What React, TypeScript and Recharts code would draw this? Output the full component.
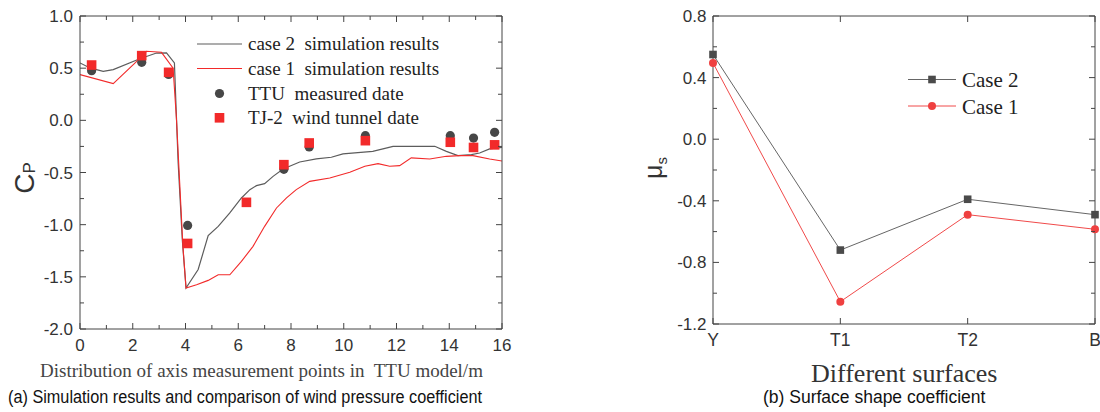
import React from 'react';
import { ComposedChart, LineChart, Line, Scatter, XAxis, YAxis } from 'recharts';

// ---------- (a) left chart data ----------
const case2X = [0, 0.4, 0.88, 1.26, 2.27, 2.9, 3.28, 3.58, 3.72, 3.88, 4.02, 4.48, 4.86, 5.24, 5.68, 6.12, 6.44, 6.69, 7.0, 7.32, 7.7, 8.33, 8.96, 9.53, 9.97, 11.1, 11.87, 12.56, 13.45, 13.89, 14.33, 14.84, 15.15, 15.53, 16];
const case2Cp = [0.55, 0.5, 0.47, 0.486, 0.59, 0.645, 0.646, 0.55, -0.4, -1.15, -1.607, -1.43, -1.105, -1.016, -0.888, -0.744, -0.664, -0.626, -0.607, -0.537, -0.466, -0.399, -0.37, -0.354, -0.322, -0.297, -0.249, -0.249, -0.249, -0.297, -0.338, -0.329, -0.313, -0.274, -0.26];

const case1X = [0, 1.26, 2.21, 2.52, 3.09, 3.53, 3.66, 3.78, 3.9, 4.02, 4.42, 4.86, 5.24, 5.68, 6.12, 6.56, 7.0, 7.45, 7.83, 8.2, 8.71, 9.47, 10.23, 10.8, 11.3, 11.74, 12.12, 12.56, 13.26, 13.89, 14.39, 14.9, 15.53, 16];
const case1Cp = [0.438, 0.352, 0.58, 0.662, 0.652, 0.5, 0.0, -0.6, -1.2, -1.607, -1.575, -1.534, -1.48, -1.48, -1.352, -1.208, -1.016, -0.84, -0.744, -0.664, -0.585, -0.552, -0.498, -0.44, -0.415, -0.44, -0.434, -0.36, -0.37, -0.345, -0.338, -0.338, -0.37, -0.39];

const ttuX = [0.44, 2.34, 3.36, 4.08, 7.73, 8.69, 10.82, 14.04, 14.92, 15.72];
const ttuCp = [0.476, 0.556, 0.44, -1.007, -0.47, -0.255, -0.147, -0.147, -0.17, -0.115];

const tj2X = [0.44, 2.34, 3.36, 4.08, 6.31, 7.73, 8.69, 10.82, 14.04, 14.92, 15.72];
const tj2Cp = [0.53, 0.62, 0.46, -1.18, -0.786, -0.425, -0.217, -0.195, -0.21, -0.26, -0.235];

const xTicksA = [0, 1, 2, 3, 4, 5, 6, 7, 8, 9, 10, 11, 12, 13, 14, 15, 16];
const yTicksA = [-2, -1.75, -1.5, -1.25, -1, -0.75, -0.5, -0.25, 0, 0.25, 0.5, 0.75, 1];

// ---------- (b) right chart data ----------
const surfaces = ['Y', 'T1', 'T2', 'B'];
const case2Mu = [0.55, -0.72, -0.39, -0.49];
const case1Mu = [0.495, -1.055, -0.49, -0.585];
const yTicksB = [-1.2, -1, -0.8, -0.6, -0.4, -0.2, 0, 0.2, 0.4, 0.6, 0.8];

const pts = (xs: number[], ys: number[]) => xs.map((x, i) => ({ x, y: ys[i] }));
const case2Data = pts(case2X, case2Cp);
const case1Data = pts(case1X, case1Cp);
const ttuData = pts(ttuX, ttuCp);
const tj2Data = pts(tj2X, tj2Cp);
const muData = surfaces.map((name, i) => ({ name, case2: case2Mu[i], case1: case1Mu[i] }));

const AXIS = '#444';
const TXT = '#333';
const GRAY = '#5c5c5c';
const RED = '#f22a2a';
const SANS = '"Liberation Sans", Arial, sans-serif';
const SERIF = '"Liberation Serif", "Times New Roman", serif';
const PRE = { whiteSpace: 'pre' as const };

// ---------- tick renderers ----------
const bottomTickA = (p: any) => {
  const v = p.payload.value;
  const major = v % 2 === 0;
  return (
    <g>
      <line x1={p.x} x2={p.x} y1={p.y} y2={p.y - (major ? 6 : 4)} stroke={AXIS} />
      {major && (
        <text x={p.x} y={p.y + 21.5} textAnchor="middle" fontFamily={SANS} fontSize={17} fill={TXT}>{v}</text>
      )}
    </g>
  );
};
const topTickA = (p: any) => {
  const v = p.payload.value;
  const major = v % 2 === 0;
  return <line x1={p.x} x2={p.x} y1={p.y} y2={p.y + (major ? 6 : 4)} stroke={AXIS} />;
};
const leftTickA = (p: any) => {
  const v = p.payload.value;
  const major = Math.round(v * 100) % 50 === 0;
  return (
    <g>
      <line x1={p.x} x2={p.x + (major ? 6 : 4)} y1={p.y} y2={p.y} stroke={AXIS} />
      {major && (
        <text x={p.x - 7} y={p.y + 6} textAnchor="end" fontFamily={SANS} fontSize={17} fill={TXT}>{v.toFixed(1)}</text>
      )}
    </g>
  );
};
const rightTickA = (p: any) => {
  const v = p.payload.value;
  const major = Math.round(v * 100) % 50 === 0;
  return <line x1={p.x} x2={p.x - (major ? 6 : 4)} y1={p.y} y2={p.y} stroke={AXIS} />;
};

const bottomTickB = (p: any) => (
  <g>
    <line x1={p.x} x2={p.x} y1={p.y} y2={p.y - 6} stroke={AXIS} />
    <text x={p.x} y={p.y + 22} textAnchor="middle" fontFamily={SANS} fontSize={17.5} fill={TXT}>{p.payload.value}</text>
  </g>
);
const topTickB = (p: any) => <line x1={p.x} x2={p.x} y1={p.y} y2={p.y + 6} stroke={AXIS} />;
const leftTickB = (p: any) => {
  const v = p.payload.value;
  const major = Math.round(v * 10) % 4 === 0;
  return (
    <g>
      <line x1={p.x} x2={p.x + (major ? 6 : 4)} y1={p.y} y2={p.y} stroke={AXIS} />
      {major && (
        <text x={p.x - 6.5} y={p.y + 6} textAnchor="end" fontFamily={SANS} fontSize={17} fill={TXT}>{v.toFixed(1)}</text>
      )}
    </g>
  );
};
const rightTickB = (p: any) => {
  const v = p.payload.value;
  const major = Math.round(v * 10) % 4 === 0;
  return <line x1={p.x} x2={p.x - (major ? 6 : 4)} y1={p.y} y2={p.y} stroke={AXIS} />;
};

const circleShape = (p: any) => <circle cx={p.cx} cy={p.cy} r={4.6} fill="#474747" />;
const squareShape = (p: any) => <rect x={p.cx - 4.8} y={p.cy - 4.8} width={9.6} height={9.6} fill={RED} />;
const squareDot = (p: any) => <rect key={p.index} x={p.cx - 3.8} y={p.cy - 3.8} width={7.6} height={7.6} fill="#4a4a4a" />;
const circleDot = (p: any) => <circle key={p.index} cx={p.cx} cy={p.cy} r={4} fill="#ef4040" />;

const axisCommon = { tickSize: 0, tickMargin: 0, interval: 0 as const, axisLine: { stroke: AXIS } };

export default function App() {
  return (
    <div style={{ position: 'absolute', left: 0, top: 0, width: 1100, height: 412, background: '#fff', overflow: 'hidden' }}>
      <div style={{ position: 'absolute', left: 0, top: 0 }}>
        <ComposedChart width={520} height={412} margin={{ top: 6, right: 8, bottom: 53, left: 40 }}>
          <XAxis xAxisId="b" dataKey="x" type="number" domain={[0, 16]} ticks={xTicksA} height={30} orientation="bottom" allowDataOverflow tick={bottomTickA} {...axisCommon} />
          <XAxis xAxisId="t" dataKey="x" type="number" domain={[0, 16]} ticks={xTicksA} height={10} orientation="top" allowDataOverflow tick={topTickA} {...axisCommon} />
          <YAxis yAxisId="l" type="number" domain={[-2, 1]} ticks={yTicksA} width={40} orientation="left" allowDataOverflow tick={leftTickA} {...axisCommon} />
          <YAxis yAxisId="r" type="number" domain={[-2, 1]} ticks={yTicksA} width={10} orientation="right" allowDataOverflow tick={rightTickA} {...axisCommon} />
          <Line xAxisId="b" yAxisId="l" data={case2Data} dataKey="y" type="linear" stroke={GRAY} strokeWidth={1.2} dot={false} isAnimationActive={false} />
          <Line xAxisId="b" yAxisId="l" data={case1Data} dataKey="y" type="linear" stroke={RED} strokeWidth={1.1} dot={false} isAnimationActive={false} />
          <Scatter xAxisId="b" yAxisId="l" data={ttuData} dataKey="y" shape={circleShape} isAnimationActive={false} />
          <Scatter xAxisId="b" yAxisId="l" data={tj2Data} dataKey="y" shape={squareShape} isAnimationActive={false} />
        </ComposedChart>
      </div>
      <div style={{ position: 'absolute', left: 600, top: 0 }}>
        <LineChart width={500} height={412} data={muData} margin={{ top: 6, right: 0, bottom: 58, left: 73 }}>
          <XAxis xAxisId="b" dataKey="name" height={30} orientation="bottom" tick={bottomTickB} {...axisCommon} />
          <XAxis xAxisId="t" dataKey="name" height={10} orientation="top" tick={topTickB} {...axisCommon} />
          <YAxis yAxisId="l" type="number" domain={[-1.2, 0.8]} ticks={yTicksB} width={40} orientation="left" allowDataOverflow tick={leftTickB} {...axisCommon} />
          <YAxis yAxisId="r" type="number" domain={[-1.2, 0.8]} ticks={yTicksB} width={5} orientation="right" allowDataOverflow tick={rightTickB} {...axisCommon} />
          <Line xAxisId="b" yAxisId="l" dataKey="case2" type="linear" stroke="#666" strokeWidth={1} dot={squareDot} isAnimationActive={false} />
          <Line xAxisId="b" yAxisId="l" dataKey="case1" type="linear" stroke="#f04a4a" strokeWidth={1} dot={circleDot} isAnimationActive={false} />
        </LineChart>
      </div>
      <svg width={1100} height={412} style={{ position: 'absolute', left: 0, top: 0, pointerEvents: 'none' }}>
        {/* legend (a) */}
        <g fontFamily={SERIF} fontSize={19} fill="#222">
          <line x1={197} x2={242} y1={44} y2={44} stroke={GRAY} strokeWidth={1.2} />
          <text x={248} y={50} style={PRE}>case 2  simulation results</text>
          <line x1={197} x2={242} y1={68.5} y2={68.5} stroke={RED} strokeWidth={1.1} />
          <text x={248} y={74.5} style={PRE}>case 1  simulation results</text>
          <circle cx={219.5} cy={93.5} r={4.6} fill="#474747" />
          <text x={248} y={99.5} style={PRE}>TTU  measured date</text>
          <rect x={214.7} y={113} width={9.6} height={9.6} fill={RED} />
          <text x={248} y={124} style={PRE}>TJ-2  wind tunnel date</text>
        </g>
        {/* legend (b) */}
        <g fontFamily={SERIF} fontSize={21} fill="#222">
          <line x1={908} x2={956} y1={79.5} y2={79.5} stroke="#666" />
          <rect x={928.2} y={75.7} width={7.6} height={7.6} fill="#4a4a4a" />
          <text x={962} y={87}>Case 2</text>
          <line x1={908} x2={956} y1={106} y2={106} stroke="#f04a4a" />
          <circle cx={932} cy={106} r={4} fill="#ef4040" />
          <text x={962} y={113.5}>Case 1</text>
        </g>
        {/* axis titles */}
        <text transform="translate(34,178) rotate(-90)" textAnchor="middle" fontFamily={SANS} fontSize={28} fill={TXT}>
          C<tspan fontSize={17} dy={1}>P</tspan>
        </text>
        <text transform="translate(662,168) rotate(-90)" textAnchor="middle" fontFamily={SANS} fontSize={25} fill={TXT}>
          μ<tspan fontSize={15} dy={5}>s</tspan>
        </text>
        <text x={40} y={377} fontFamily={SERIF} fontSize={19} fill="#444" style={PRE}>Distribution of axis measurement points in  TTU model/m</text>
        <text x={811} y={381.5} fontFamily={SERIF} fontSize={26} fill="#333">Different surfaces</text>
        <text x={8} y={402.5} fontFamily={SANS} fontSize={17.5} fill="#111" textLength={474} lengthAdjust="spacingAndGlyphs">(a) Simulation results and comparison of wind pressure coefficient</text>
        <text x={763} y={402.5} fontFamily={SANS} fontSize={17.5} fill="#111">(b) Surface shape coefficient</text>
      </svg>
    </div>
  );
}
